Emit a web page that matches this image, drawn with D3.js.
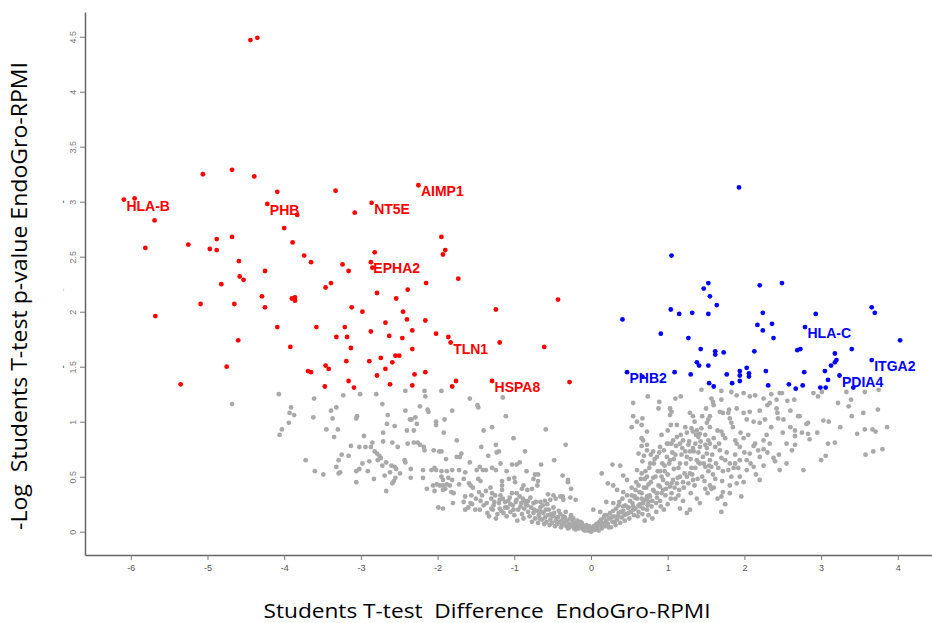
<!DOCTYPE html>
<html>
<head>
<meta charset="utf-8">
<script src="https://cdn.jsdelivr.net/npm/d3@7"></script>
<style>
  body { margin: 0; background: #fff; }
  svg { display: block; }
</style>
</head>
<body>
<div id="chart"></div>
<script>
// tick values
const xTicks = [-6, -5, -4, -3, -2, -1, 0, 1, 2, 3, 4]
const yTicks = [0, 0.5, 1, 1.5, 2, 2.5, 3, 3.5, 4, 4.5]

// significant, lower in EndoGro (red)  [difference, -log p]
const leftSig = [
  [-4.44,4.47],[-4.35,4.49],
  [-5.06,3.25],[-4.68,3.29],[-4.39,3.23],[-6.09,3.02],[-5.95,3.03],[-4.09,3.09],[-3.33,3.10],[-2.25,3.15],
  [-4.22,2.98],[-2.86,2.99],[-3.08,2.90],[-3.83,2.88],[-5.69,2.83],[-4.00,2.76],[-1.95,2.68],[-1.90,2.56],
  [-1.93,2.52],[-5.81,2.58],[-5.25,2.61],[-4.88,2.66],[-4.68,2.68],[-4.97,2.57],[-4.88,2.56],[-3.89,2.63],
  [-3.74,2.51],[-3.65,2.45],[-4.59,2.46],[-2.82,2.54],[-2.87,2.45],[-2.85,2.40],[-3.24,2.43],[-3.16,2.37],
  [-4.25,2.37],[-4.58,2.32],[-4.53,2.29],[-4.82,2.25],[-1.73,2.30],[-2.15,2.26],[-2.39,2.20],[-3.39,2.26],
  [-3.46,2.22],[-2.79,2.17],[-2.54,2.12],[-4.29,2.14],[-3.90,2.12],[-3.86,2.13],[-3.86,2.10],[-5.09,2.07],
  [-4.65,2.07],[-4.25,2.04],[-0.43,2.11],[-3.12,2.04],[-2.98,2.00],[-2.45,2.00],[-1.24,2.02],[-5.68,1.96],
  [-2.40,1.93],[-2.16,1.92],[-2.68,1.90],[-4.09,1.86],[-3.58,1.86],[-3.21,1.86],[-2.33,1.83],[-2.87,1.82],
  [-2.02,1.80],[-1.86,1.77],[-1.83,1.72],[-3.32,1.77],[-3.18,1.77],[-2.63,1.78],[-2.46,1.76],[-1.19,1.72],
  [-0.61,1.68],[-4.60,1.74],[-3.92,1.68],[-3.13,1.67],[-2.33,1.66],[-2.55,1.60],[-2.50,1.60],[-2.74,1.58],
  [-2.59,1.54],[-2.89,1.55],[-3.19,1.55],[-4.75,1.50],[-3.46,1.51],[-3.42,1.48],[-3.69,1.46],[-3.65,1.45],
  [-2.68,1.48],[-2.30,1.43],[-2.16,1.45],[-2.79,1.42],[-3.16,1.37],[-2.62,1.34],[-2.33,1.33],[-1.76,1.37],
  [-1.81,1.32],[-1.29,1.37],[-5.35,1.34],[-3.47,1.32],[-3.09,1.31],[-0.28,1.36]
]

// significant, higher in EndoGro (blue)
const rightSig = [
  [1.93,3.13],[1.05,2.51],[1.53,2.26],[1.47,2.21],[1.55,2.14],[2.20,2.24],[2.49,2.26],[1.64,2.06],
  [1.04,2.02],[1.15,1.98],[1.32,1.99],[1.53,1.98],[0.41,1.93],[2.24,1.99],[2.93,1.98],[3.66,2.04],
  [3.70,1.99],[2.17,1.88],[2.36,1.89],[2.24,1.83],[2.38,1.76],[2.79,1.86],[0.91,1.80],[1.27,1.76],
  [4.03,1.74],[1.43,1.66],[1.62,1.64],[1.62,1.61],[1.73,1.63],[2.13,1.64],[2.69,1.65],[2.73,1.66],
  [3.40,1.66],[3.18,1.62],[3.20,1.56],[3.18,1.54],[3.13,1.51],[3.66,1.56],[1.38,1.54],[1.41,1.51],
  [1.53,1.51],[2.03,1.49],[0.47,1.45],[0.67,1.41],[1.09,1.45],[1.30,1.43],[1.77,1.43],[1.94,1.46],
  [1.94,1.42],[1.94,1.37],[2.06,1.44],[2.06,1.41],[2.28,1.46],[2.78,1.45],[3.05,1.46],[3.24,1.42],
  [3.09,1.38],[1.54,1.35],[1.60,1.32],[1.84,1.35],[2.31,1.33],[2.58,1.34],[2.67,1.30],[2.76,1.33],
  [2.99,1.31],[3.06,1.31],[3.42,1.31]
]

// not significant (grey)
const notSig = [
  [-4.68,1.16],[-4.07,1.25],[-3.61,1.21],[-3.23,1.24],[-3.01,1.25],[-2.80,1.25],[-2.42,1.28],[-2.17,1.28],
  [-2.16,1.23],[-1.95,1.28],[-3.91,1.13],[-3.93,1.08],[-3.87,1.06],[-3.94,0.99],[-4.03,0.93],[-4.06,0.88],
  [-3.62,1.04],[-3.39,1.10],[-3.32,1.13],[-3.37,1.03],[-3.45,0.93],[-3.30,0.93],[-3.35,0.86],[-3.05,1.05],
  [-3.06,1.03],[-2.72,1.16],[-2.65,1.06],[-2.66,0.98],[-2.56,0.96],[-2.42,1.10],[-2.36,1.02],[-2.34,1.02],
  [-2.29,1.04],[-2.27,0.98],[-2.40,0.92],[-2.31,0.92],[-2.23,1.14],[-2.13,1.11],[-2.12,1.09],[-2.02,1.00],
  [-2.02,0.97],[-1.91,1.02],[-1.92,0.90],[-1.81,1.10],[-2.71,0.90],[-2.96,0.87],[-2.71,0.82],[-2.59,0.81],
  [-2.85,0.81],[-3.13,0.78],[-3.02,0.77],[-2.94,0.77],[-2.87,0.77],[-2.82,0.73],[-2.79,0.71],[-2.76,0.69],
  [-2.74,0.67],[-2.52,0.77],[-2.39,0.80],[-2.31,0.81],[-2.26,0.81],[-2.23,0.79],[-2.18,0.77],[-2.17,0.74],
  [-2.05,0.74],[-1.98,0.73],[-1.95,0.73],[-1.75,0.83],[-1.89,0.66],[-3.25,0.70],[-3.16,0.69],[-3.29,0.65],
  [-3.72,0.65],[-3.32,0.59],[-3.60,0.55],[-3.49,0.52],[-3.29,0.53],[-3.27,0.54],[-3.06,0.55],[-3.02,0.57],
  [-2.98,0.62],[-2.89,0.64],[-2.91,0.55],[-2.78,0.65],[-2.72,0.60],[-2.67,0.63],[-2.60,0.60],[-2.56,0.59],
  [-2.54,0.57],[-2.43,0.65],[-2.42,0.63],[-2.62,0.54],[-2.49,0.53],[-2.35,0.57],[-2.35,0.49],[-2.69,0.51],
  [-2.83,0.48],[-2.55,0.49],[-2.57,0.46],[-2.59,0.44],[-3.06,0.45],[-2.67,0.37],[-2.19,0.56],[-2.19,0.49],
  [-2.08,0.56],[-2.02,0.56],[-2.04,0.58],[-1.95,0.55],[-1.88,0.55],[-1.81,0.56],[-1.95,0.50],[-1.93,0.47],
  [-1.86,0.49],[-2.06,0.42],[-2.01,0.43],[-1.97,0.42],[-1.93,0.42],[-1.88,0.43],[-1.84,0.42],[-2.14,0.39],
  [-2.04,0.37],[-1.93,0.38],[-1.90,0.39],[-1.82,0.36],[-1.80,0.26],[-1.99,0.22],[-1.93,0.21],[-1.72,0.43],
  [-1.72,0.56],[-1.75,0.68],[-1.58,1.21],[-1.48,1.15],[-1.47,1.13],[-1.15,1.22],[-1.11,1.05],[-1.29,0.95],
  [-1.40,0.92],[-0.59,0.93],[-1.01,0.85],[-1.43,0.77],[-1.20,0.73],[-1.23,0.72],[-0.86,0.73],[-0.33,0.79],
  [-0.48,0.65],[-0.65,0.61],[-0.93,0.63],[-0.97,0.61],[-1.58,0.63],[-1.71,0.68],[-1.34,0.69],[-1.45,0.59],
  [-1.37,0.56],[-1.29,0.58],[-1.24,0.56],[-1.03,0.61],[-0.37,0.51],[-0.30,0.47],[-0.73,0.52],[-0.75,0.48],
  [-1.24,0.79],[-1.69,0.71],[-1.64,0.54],[-1.49,0.56],[-1.41,0.56],[-1.18,0.62],[-1.10,0.55],[-0.84,0.55],
  [-0.69,0.52],[-1.81,0.47],[-1.66,0.48],[-1.59,0.44],[-1.57,0.42],[-1.54,0.40],[-1.47,0.48],[-1.44,0.46],
  [-1.16,0.46],[-1.16,0.42],[-1.16,0.38],[-1.07,0.48],[-1.00,0.49],[-0.99,0.45],[-0.88,0.42],[-0.90,0.39],
  [-0.83,0.38],[-0.77,0.39],[-0.70,0.42],[-0.69,0.46],[-0.30,0.45],[-0.26,0.39],[-0.37,0.32],[-0.56,0.34],
  [-0.49,0.33],[-0.40,0.32],[-1.79,0.35],[-1.64,0.32],[-1.56,0.33],[-1.46,0.36],[-1.37,0.37],[-1.31,0.40],
  [-1.29,0.35],[-1.03,0.35],[-0.97,0.35],[-1.66,0.27],[-1.57,0.26],[-1.44,0.28],[-1.64,0.20],[-1.51,0.20],
  [-1.26,0.27],[-1.19,0.29],[-1.12,0.27],[-1.05,0.25],[-1.28,0.20],[-1.19,0.21],[-1.09,0.22],[-1.01,0.20],
  [-0.97,0.29],[-0.89,0.30],[-0.82,0.28],[-0.75,0.26],[-0.66,0.27],[-0.60,0.28],[-0.53,0.29],[-0.46,0.30],
  [-0.36,0.29],[-0.27,0.31],[-0.20,0.29],
  // dense band around zero, left arm
  [-1.60,0.22],[-1.55,0.25],[-1.45,0.20],[-1.40,0.24],[-1.35,0.17],[-1.30,0.21],[-1.22,0.16],[-1.17,0.19],
  [-1.10,0.14],[-1.30,0.30],[-1.25,0.33],[-1.20,0.26],[-1.15,0.30],[-1.12,0.22],[-1.08,0.28],[-1.05,0.18],
  [-1.02,0.24],[-0.98,0.27],[-0.95,0.20],[-0.92,0.23],[-0.90,0.16],[-0.87,0.21],[-0.85,0.25],[-0.82,0.18],
  [-0.80,0.14],[-0.78,0.22],[-0.75,0.17],[-0.73,0.12],[-0.70,0.19],[-0.68,0.15],[-0.66,0.22],[-0.64,0.11],
  [-0.62,0.17],[-0.60,0.13],[-0.58,0.09],[-0.56,0.15],[-0.55,0.20],[-0.53,0.11],[-0.51,0.08],[-0.50,0.14],
  [-0.48,0.17],[-0.46,0.10],[-0.44,0.07],[-0.43,0.13],[-0.41,0.09],[-0.40,0.16],[-0.38,0.06],[-0.37,0.11],
  [-0.35,0.08],[-0.34,0.13],[-0.32,0.05],[-0.31,0.10],[-0.29,0.07],[-0.28,0.04],[-0.27,0.12],[-0.25,0.06],
  [-0.24,0.09],[-0.22,0.03],[-0.21,0.07],[-0.19,0.05],[-0.18,0.10],[-0.16,0.03],[-0.15,0.06],[-0.13,0.04],
  [-0.12,0.08],[-0.10,0.02],[-0.09,0.05],[-0.07,0.03],[-0.06,0.06],[-0.04,0.01],[-0.03,0.04],[-0.01,0.02],
  [0.00,0.00],[0.02,0.01],[0.03,0.03],
  [-1.50,0.30],[-1.42,0.33],[-1.36,0.26],[-1.33,0.14],[-1.27,0.24],[-1.24,0.12],[-1.18,0.33],[-1.14,0.17],
  [-1.06,0.31],[-1.00,0.15],[-0.96,0.10],[-0.93,0.32],[-0.91,0.26],[-0.88,0.12],[-0.86,0.28],[-0.83,0.24],
  [-0.79,0.31],[-0.77,0.09],[-0.74,0.20],[-0.72,0.27],[-0.69,0.08],[-0.67,0.12],[-0.65,0.18],[-0.63,0.24],
  [-0.61,0.07],[-0.59,0.20],[-0.57,0.25],[-0.54,0.06],[-0.52,0.16],[-0.49,0.22],[-0.47,0.05],[-0.45,0.13],
  [-0.42,0.19],[-0.39,0.04],[-0.36,0.14],[-0.33,0.18],[-0.30,0.03],[-0.26,0.15],[-0.23,0.12],[-0.20,0.02],
  [-0.17,0.07],[-0.14,0.09],[-0.11,0.05],[-0.08,0.01],[-0.05,0.03],[-0.02,0.05],[0.01,0.03],[0.04,0.05],
  [0.06,0.02],[0.07,0.07],
  // right arm
  [0.28,0.61],[0.38,0.60],[0.14,0.53],[0.22,0.44],[0.29,0.42],[0.42,0.51],[0.47,0.47],[0.53,0.95],
  [0.66,0.97],[0.68,0.83],[0.66,0.78],[0.73,0.79],[0.62,0.71],[0.69,0.69],[0.67,0.64],[0.60,0.56],
  [0.66,0.53],[0.73,0.50],[0.34,0.38],[0.42,0.36],[0.53,0.33],[0.57,0.32],[0.66,0.30],[0.73,0.32],
  [0.20,0.27],[0.29,0.26],[0.36,0.24],[0.42,0.23],[0.49,0.22],[0.55,0.23],[0.62,0.24],[0.68,0.26],
  [0.75,0.27],[0.03,0.20],[0.12,0.18],[0.18,0.15],[0.55,1.17],[0.55,1.05],[0.60,1.00],
  [0.05,0.02],[0.08,0.04],[0.10,0.01],[0.12,0.06],[0.14,0.03],[0.16,0.08],[0.18,0.05],[0.20,0.10],
  [0.22,0.07],[0.24,0.12],[0.26,0.04],[0.28,0.09],[0.30,0.14],[0.32,0.06],[0.34,0.11],[0.36,0.17],
  [0.38,0.08],[0.40,0.13],[0.42,0.19],[0.44,0.10],[0.46,0.16],[0.48,0.22],[0.50,0.12],[0.52,0.18],
  [0.54,0.26],[0.56,0.15],[0.58,0.21],[0.60,0.30],[0.62,0.18],[0.64,0.25],[0.66,0.35],[0.68,0.21],
  [0.70,0.29],[0.72,0.40],[0.74,0.24],[0.76,0.33],[0.78,0.45],[0.80,0.28],[0.82,0.37],[0.84,0.50],
  [0.86,0.31],[0.88,0.42],[0.90,0.55],[0.92,0.35],[0.94,0.47],[0.96,0.60],[0.98,0.39],[1.00,0.52],
  [1.03,0.65],[1.05,0.44],[1.08,0.57],[1.10,0.70],[1.13,0.49],[1.16,0.62],[1.19,0.76],[1.22,0.53],
  [1.25,0.68],[1.28,0.82],[1.31,0.58],[1.34,0.73],[1.37,0.88],[1.40,0.63],
  [0.09,0.06],[0.11,0.09],[0.13,0.11],[0.15,0.05],[0.17,0.13],[0.19,0.08],[0.21,0.15],[0.23,0.04],
  [0.25,0.17],[0.27,0.13],[0.29,0.19],[0.31,0.09],[0.33,0.21],[0.35,0.14],[0.37,0.27],[0.39,0.18],
  [0.41,0.30],[0.43,0.15],[0.45,0.24],[0.47,0.33],[0.49,0.17],[0.51,0.28],[0.53,0.40],[0.55,0.20],
  [0.57,0.31],[0.59,0.45],[0.61,0.14],[0.63,0.36],[0.65,0.48],[0.67,0.16],[0.69,0.40],[0.71,0.55],
  [0.73,0.20],[0.75,0.43],[0.77,0.62],[0.79,0.23],[0.81,0.49],[0.83,0.66],[0.85,0.26],[0.87,0.55],
  [0.89,0.72],[0.91,0.23],[0.93,0.62],[0.97,0.33],[0.99,0.68],[1.01,0.80],[1.04,0.30],[1.06,0.72],
  [1.09,0.40],[1.11,0.78],[1.14,0.33],[1.17,0.88],[1.21,0.40],[1.23,0.95],[1.27,0.44],[1.32,0.52],
  [1.36,0.80],[1.39,0.48],[1.43,0.82],[1.47,0.62],[1.51,0.76],[1.54,0.60],[1.58,0.70],[1.63,0.62],
  [1.67,0.80],[1.71,0.46],[1.77,0.72],[1.83,0.50],[1.88,0.70],[1.92,0.58],[2.00,0.72],[2.08,0.62],
  [2.15,0.52],[2.25,0.60],[2.33,0.80],[2.45,0.70],[2.55,0.62],[2.60,0.95],[2.75,0.90],[2.95,0.90],
  [3.10,1.00],[3.25,0.95],[3.40,1.05],[3.55,1.08],[3.80,0.75],
  [1.29,0.53],[1.25,0.50],[1.33,0.47],[1.20,0.45],[1.16,0.50],[1.12,0.44],[1.07,0.47],[1.03,0.41],
  [0.99,0.44],[0.94,0.38],[0.90,0.41],[0.86,0.35],[0.81,0.38],[0.77,0.32],[0.73,0.29],[0.68,0.26],
  [0.64,0.23],[1.10,0.30],[1.00,0.25],[0.95,0.20],[0.85,0.18],[0.80,0.12],[0.75,0.15],[0.70,0.10],
  [1.05,0.35],[1.15,0.38],[1.20,0.28],[1.30,0.35],[1.35,0.42],[1.38,0.30],[0.90,0.28],[0.92,0.50],
  [0.96,0.55],[1.02,0.62],[1.08,0.66],[1.14,0.58],[1.18,0.70],[1.24,0.62],[1.30,0.66],[1.36,0.58],
  [1.40,0.72],[1.45,0.50],[1.48,0.46],[1.52,0.35],[1.60,0.40],[1.62,0.48],[1.65,0.30],[1.75,0.25],
  [0.62,0.42],[0.58,0.38],[0.70,0.48],[0.76,0.58],[0.82,0.62],[0.86,0.68],[0.78,0.70],[0.95,0.74],
  [0.92,0.88],[1.00,0.92],[1.05,0.80],[1.12,0.86],[1.25,0.90],[1.35,1.00],[1.45,1.05],[1.55,0.95],
  [1.60,0.85],[1.65,0.92],[1.75,0.85],[1.85,0.95],[1.95,0.90],[2.05,0.88],[2.12,0.78],[2.30,0.72],
  [2.35,0.95],[2.50,0.90],[2.55,0.80],[2.60,1.10],[2.65,1.20],[2.70,1.05],[2.30,1.15],[2.20,1.10],
  [1.90,1.12],[1.60,1.15],[1.50,1.12],
  [0.74,1.23],[0.89,1.18],[0.88,1.12],[1.10,1.21],[1.17,1.23],[1.44,1.29],[1.57,1.21],[1.59,1.18],
  [1.70,1.20],[1.70,1.28],[1.83,1.27],[1.90,1.24],[1.99,1.26],[2.07,1.23],[2.14,1.24],[2.25,1.21],
  [2.35,1.25],[2.46,1.26],[2.42,1.20],[2.33,1.17],[2.56,1.19],[0.67,1.03],[0.73,0.91],[0.66,0.85],
  [1.03,1.12],[1.05,1.09],[1.03,1.06],[1.12,0.97],[1.04,0.97],[1.29,1.08],[1.33,1.05],[1.53,1.02],
  [1.55,1.05],[1.51,0.99],[1.31,0.94],[1.33,0.91],[1.38,0.92],[1.42,0.89],[1.44,0.94],[1.40,0.86],
  [1.49,0.88],[1.68,1.09],[1.72,1.08],[1.79,1.08],[1.81,1.03],[1.83,0.99],[1.80,1.11],[1.70,0.91],
  [1.72,0.88],[1.99,1.08],[2.07,1.09],[2.12,1.00],[2.03,1.02],[2.20,0.99],[2.27,1.02],[2.42,1.12],
  [2.43,1.08],[2.44,1.03],[2.51,1.02],[2.29,0.88],[2.25,0.83],[2.14,0.80],[1.99,0.85],[1.88,0.83],
  [1.90,0.80],[1.94,0.77],[1.53,0.83],[1.55,0.80],[1.62,0.77],[1.49,0.79],[1.42,0.77],[1.20,0.83],
  [1.16,0.80],[1.27,0.79],[1.33,0.76],[1.29,0.73],[1.23,0.73],[1.07,0.83],[0.99,0.80],[0.90,0.77],
  [0.81,0.73],[0.73,0.74],[2.18,0.74],[2.25,0.75],[2.20,0.68],[2.07,0.71],[2.03,0.65],[1.94,0.65],
  [1.88,0.62],[2.38,0.67],[2.40,0.64],[2.46,0.56],[1.68,0.74],[1.70,0.67],[1.75,0.65],[1.81,0.62],
  [1.86,0.58],[1.79,0.56],[1.72,0.55],[1.66,0.58],[1.51,0.71],[1.46,0.68],[1.55,0.65],[1.42,0.62],
  [1.38,0.65],[1.49,0.59],[1.57,0.59],[1.53,0.55],[1.59,0.52],[2.12,0.59],[2.03,0.56],[1.94,0.50],
  [1.99,0.45],[1.90,0.44],[1.96,0.32],[1.81,0.42],[2.20,0.47],[1.72,0.36],[1.70,0.32],[1.81,0.35],
  [1.70,0.18],[1.55,0.42],[1.49,0.39],[1.57,0.39],[1.42,0.26],[1.29,0.20],[1.16,0.21],[1.25,0.17],
  [2.49,1.26],[2.90,1.26],[2.96,1.23],[3.01,1.27],[3.22,1.17],[3.33,1.27],[3.39,1.20],[3.36,1.14],
  [3.57,1.27],[3.75,1.29],[3.74,1.11],[2.72,1.05],[2.81,0.98],[2.83,0.99],[3.03,1.01],[2.66,0.92],
  [2.66,0.87],[2.66,0.79],[2.83,0.89],[2.85,0.84],[2.62,0.74],[3.09,0.80],[3.18,0.81],[3.47,0.89],
  [3.57,0.93],[3.67,0.93],[3.71,0.91],[3.86,0.95],[3.58,0.70],[3.68,0.73],[3.00,0.65],[3.06,0.69],
  [2.77,0.56]
]

// labelled genes: name, difference, -log p, group
const labelNames = ["HLA-B", "PHB", "NT5E", "AIMP1", "EPHA2", "TLN1", "HSPA8", "PHB2", "HLA-C", "ITGA2", "PDIA4"]
const labelX = [-6.09, -4.22, -2.86, -2.25, -2.87, -1.83, -1.29, 0.47, 2.79, 3.66, 3.24]
const labelY = [3.02, 2.98, 2.99, 3.15, 2.45, 1.72, 1.37, 1.45, 1.86, 1.56, 1.42]
const labelGroup = ["left", "left", "left", "left", "left", "left", "left", "right", "right", "right", "right"]

const width = 932, height = 623

const svg = d3.select("#chart")
  .append("svg")
    .attr("width", width)
    .attr("height", height)

svg.append("rect").attr("width", width).attr("height", height).attr("fill", "#fff")

// scales (axes cross at the lower left corner, below y = 0)
const x = d3.scaleLinear().domain([-6.597, 4.446]).range([85, 932])
const y = d3.scaleLinear().domain([-0.212, 4.725]).range([555, 12])

// x axis
const xAxis = svg.append("g")
    .attr("transform", "translate(0,555)")
    .call(d3.axisBottom(x).tickValues(xTicks).tickSize(5).tickSizeOuter(0)
      .tickFormat(d => String(d)))
xAxis.select(".domain").attr("stroke", "#666").attr("stroke-width", 1.5)
xAxis.selectAll(".tick line").attr("stroke", "#777")
xAxis.selectAll(".tick text")
    .attr("fill", "#555")
    .attr("font-family", "Liberation Sans, Arial, sans-serif")
    .attr("font-size", 9)
    .attr("dy", "0.9em")

// y axis, labels turned on their side
const yAxis = svg.append("g")
    .attr("transform", "translate(85,0)")
    .call(d3.axisLeft(y).tickValues(yTicks).tickSize(5).tickSizeOuter(0)
      .tickFormat(d => String(d)))
yAxis.select(".domain").attr("stroke", "#666").attr("stroke-width", 1.5)
yAxis.selectAll(".tick line").attr("stroke", "#777")
yAxis.selectAll(".tick text")
    .attr("fill", "#777")
    .attr("font-family", "Liberation Sans, Arial, sans-serif")
    .attr("font-size", 9)
    .attr("x", null).attr("dy", null)
    .attr("text-anchor", "middle")
    .attr("transform", "translate(-9,0) rotate(-90)")

// stray marks left of the y axis
const strayMarks = [3, 2.2, 1.5]
svg.selectAll(".stray")
  .data(strayMarks)
  .enter().append("text")
    .attr("transform", d => "translate(66," + y(d) + ") rotate(-90)")
    .attr("text-anchor", "middle")
    .attr("font-family", "Liberation Sans, Arial, sans-serif")
    .attr("font-size", 10)
    .attr("fill", (d, i) => i == 1 ? "#ccc" : "#555")
    .text("-")

// points
const plot = svg.append("g")
function drawDots(data, colour) {
  plot.selectAll(null)
    .data(data)
    .enter().append("circle")
      .attr("cx", d => x(d[0]))
      .attr("cy", d => y(d[1]))
      .attr("r", 2.4)
      .attr("fill", colour)
}
drawDots(notSig, "#a9a9a9")
drawDots(leftSig, "#ff0000")
drawDots(rightSig, "#0000ff")

// gene labels
svg.selectAll(".gene")
  .data(labelNames)
  .enter().append("text")
    .attr("x", (d, i) => x(labelX[i]) + 2.5)
    .attr("y", (d, i) => y(labelY[i]) + 11)
    .attr("font-family", "Liberation Sans, Arial, sans-serif")
    .attr("font-weight", "bold")
    .attr("font-size", 14)
    .attr("fill", (d, i) => labelGroup[i] == "left" ? "#ff0000" : "#0000ff")
    .text(d => d)

// axis titles
svg.append("text")
    .attr("x", 487)
    .attr("y", 618)
    .attr("text-anchor", "middle")
    .attr("font-family", "Open Sans, sans-serif")
    .attr("font-size", 20)
    .attr("textLength", 447)
    .attr("lengthAdjust", "spacingAndGlyphs")
    .attr("fill", "#000")
    .style("white-space", "pre")
    .text("Students T-test  Difference  EndoGro-RPMI")

svg.append("text")
    .attr("transform", "translate(27,296) rotate(-90)")
    .attr("text-anchor", "middle")
    .attr("font-family", "Open Sans, sans-serif")
    .attr("font-size", 21)
    .attr("textLength", 468)
    .attr("lengthAdjust", "spacingAndGlyphs")
    .attr("fill", "#000")
    .style("white-space", "pre")
    .text("-Log  Students T-test p-value EndoGro-RPMI")
</script>
</body>
</html>
